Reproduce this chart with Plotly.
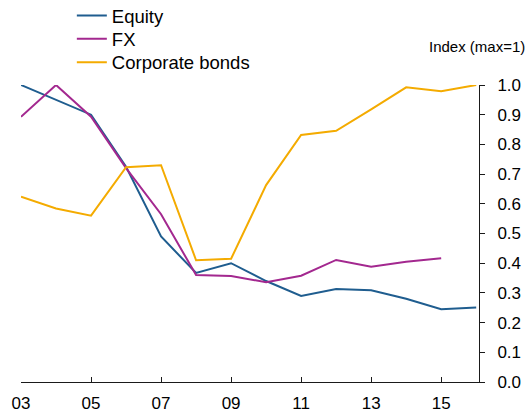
'''
    Equity, FX and corporate bond indices (max=1), 2003-2016.
'''
import plotly.graph_objects as go

YEARS = list(range(2003, 2017))

EQUITY = [1.0, 0.95, 0.90, 0.725, 0.49, 0.367, 0.40, 0.34, 0.29, 0.313, 0.309, 0.28, 0.245, 0.251]
FX = [0.893, 1.0, 0.893, 0.72, 0.565, 0.36, 0.357, 0.336, 0.358, 0.411, 0.388, 0.405, 0.417]
CORP_BONDS = [0.624, 0.584, 0.56, 0.723, 0.73, 0.41, 0.415, 0.663, 0.832, 0.846, 0.918, 0.992, 0.979, 1.0]

X_TICKS = [2003, 2005, 2007, 2009, 2011, 2013, 2015]
X_TICK_LABELS = ["03", "05", "07", "09", "11", "13", "15"]
Y_TICKS = [0.0, 0.1, 0.2, 0.3, 0.4, 0.5, 0.6, 0.7, 0.8, 0.9, 1.0]

FONT = "Liberation Sans, Arial, sans-serif"
AXIS_COLOR = "#1a1a1a"


def generate_plot():
    '''
        Builds the figure with the three series.
    '''
    fig = go.Figure()

    # one legend per row so the rows sit as tight as in the original
    series = [
        ("Equity", YEARS, EQUITY, "#1f5d8f", "legend", 1.232),
        ("FX", YEARS[:len(FX)], FX, "#a3288f", "legend2", 1.154),
        ("Corporate bonds", YEARS, CORP_BONDS, "#f4ab00", "legend3", 1.075),
    ]
    legends = {}
    for name, x, y, color, legend_id, legend_y in series:
        fig.add_trace(go.Scatter(
            x=x, y=y, name=name, mode="lines",
            line=dict(color=color, width=2),
            legend=legend_id,
        ))
        legends[legend_id] = dict(
            x=0.111,
            y=legend_y,
            xanchor="left",
            yanchor="middle",
            bgcolor="rgba(0,0,0,0)",
            font=dict(size=18.5),
        )

    fig.update_xaxes(
        range=[2003, 2016.08],
        tickmode="array",
        tickvals=X_TICKS,
        ticktext=X_TICK_LABELS,
        ticks="inside",
        ticklen=5,
        tickcolor=AXIS_COLOR,
        ticklabelstandoff=6,
        showline=True,
        linecolor=AXIS_COLOR,
        linewidth=1,
        showgrid=False,
        zeroline=False,
        tickfont=dict(size=17, color="#000000"),
    )

    fig.update_yaxes(
        range=[0, 1.0],
        side="right",
        tickmode="array",
        tickvals=Y_TICKS,
        tickformat=".1f",
        ticks="outside",
        ticklen=5,
        tickcolor=AXIS_COLOR,
        ticklabelstandoff=9,
        showline=True,
        linecolor=AXIS_COLOR,
        linewidth=1,
        showgrid=False,
        zeroline=False,
        tickfont=dict(size=17, color="#000000"),
    )

    fig.update_layout(
        width=531,
        height=415,
        paper_bgcolor="#FFFFFF",
        plot_bgcolor="#FFFFFF",
        margin=dict(l=21, r=52, t=85, b=33, autoexpand=False),
        font=dict(family=FONT, size=16, color="#000000"),
        showlegend=True,
        annotations=[dict(
            text="Index (max=1)",
            xref="paper", yref="paper",
            x=1.1055, y=1.131,
            xanchor="right", yanchor="middle",
            showarrow=False,
            font=dict(size=15, color="#000000"),
        )],
        **legends,
    )

    return fig


fig = generate_plot()
fig.write_html(
    "out.html",
    config={"displayModeBar": False},
    post_script="document.body.style.margin='0';",
)
